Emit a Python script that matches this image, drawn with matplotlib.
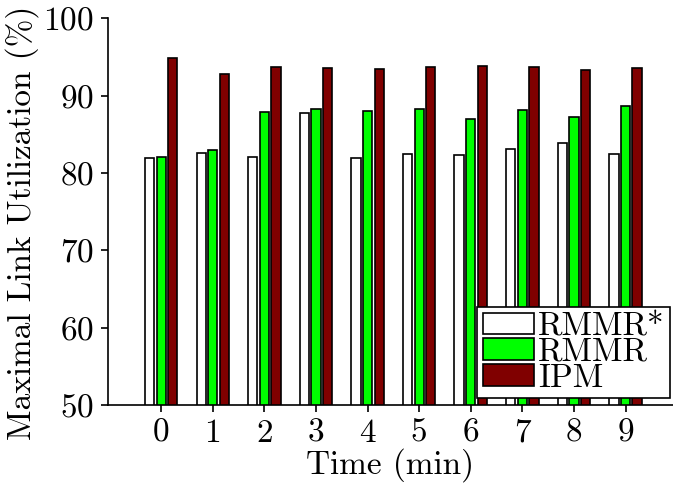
import matplotlib.pyplot as plt
import numpy as np

plt.rcParams['font.family'] = ['cmr10', 'DejaVu Serif']
plt.rcParams['mathtext.fontset'] = 'cm'
plt.rcParams['axes.formatter.use_mathtext'] = True

minutes = [0, 1, 2, 3, 4, 5, 6, 7, 8, 9]
rmmr_star = [81.9, 82.6, 82.0, 87.8, 81.9, 82.5, 82.3, 83.1, 83.9, 82.5]
rmmr = [82.0, 83.0, 87.9, 88.3, 88.0, 88.2, 87.0, 88.1, 87.2, 88.7]
ipm = [94.9, 92.8, 93.7, 93.6, 93.4, 93.7, 93.8, 93.7, 93.3, 93.6]

x = np.arange(len(minutes))
w = 0.18
off = 0.225

fig = plt.figure(figsize=(6.73, 4.9), dpi=100)
ax = fig.add_axes([0.1605, 0.1735, 0.8395, 0.7895])

ax.bar(x - off, rmmr_star, w, color='white', edgecolor='black', linewidth=1.2, label='RMMR*')
ax.bar(x, rmmr, w, color='#00ff00', edgecolor='black', linewidth=1.2, label='RMMR')
ax.bar(x + off, ipm, w, color='#800000', edgecolor='black', linewidth=1.2, label='IPM')

ax.set_xlim(-1.03, 9.92)
ax.set_ylim(50, 100)
ax.set_xticks(x)
ax.set_xticklabels([str(m) for m in minutes])
ax.set_yticks([50, 60, 70, 80, 90, 100])
ax.tick_params(direction='out', length=5, width=1.2, labelsize=24, pad=5)
ax.spines['top'].set_visible(False)
ax.spines['right'].set_visible(False)
ax.spines['left'].set_linewidth(1.2)
ax.spines['bottom'].set_linewidth(1.2)

ax.set_xlabel('Time (min)', fontsize=24, labelpad=0)
ax.set_ylabel('Maximal Link Utilization (%)', fontsize=24)
ax.yaxis.set_label_coords(-0.122, 0.47)

leg = ax.legend(loc='lower right', bbox_to_anchor=(0.995, 0.018), fontsize=24,
                frameon=True, fancybox=False, edgecolor='black', framealpha=1,
                handlelength=1.55, handleheight=0.62, labelspacing=-0.1,
                handletextpad=0.12, borderpad=0.16, borderaxespad=0)
leg.get_frame().set_linewidth(1.2)

fig.savefig('out.png', dpi=100)
